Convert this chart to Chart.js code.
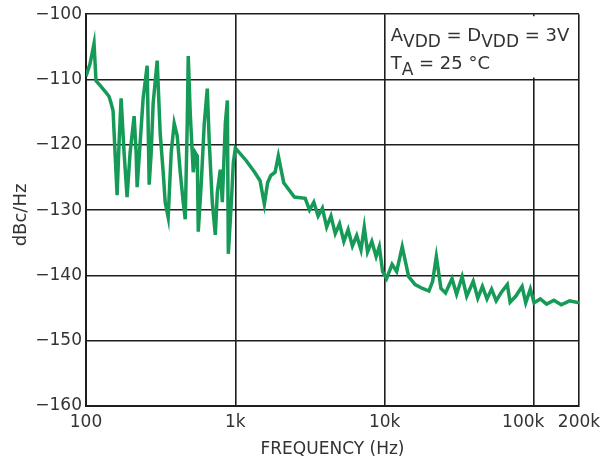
<!DOCTYPE html>
<html>
<head>
<meta charset="utf-8">
<script src="https://cdn.jsdelivr.net/npm/chart.js@4/dist/chart.umd.min.js"></script>
<style>
  html, body { margin: 0; padding: 0; background: #fff; }
  #wrap { width: 614px; height: 464px; }
</style>
</head>
<body>
<div id="wrap"><canvas id="noiseChart" width="614" height="464"></canvas></div>
<script>
// Phase noise vs frequency
const freqHz = [
  100, 106.4, 113.2, 116.7, 124.2, 134.1, 142.7, 147.1, 151.8, 156.5,
  161.5, 166.5, 171.8, 179.9, 188.4, 197.4, 210.0, 216.6, 220.0, 230.4,
  241.3, 256.7, 264.8, 273.2, 281.7, 299.6, 313.8, 328.7, 339.0, 355.0,
  371.9, 389.6, 408.0, 427.5, 447.7, 461.8, 476.3, 483.7, 498.9, 522.6,
  539.0, 555.9, 564.6, 591.4, 619.4, 648.8, 669.1, 700.9, 734.2, 757.2,
  793.1, 818.1, 856.9, 884.0, 897.4, 940.1, 969.6, 1000,
  1180, 1347, 1464, 1564, 1644, 1727, 1845, 1940, 2108, 2486,
  2937, 3138, 3353, 3582, 3827, 4088, 4368, 4666, 4985, 5326,
  5690, 6079, 6494, 6938, 7298, 7677, 8201, 8762, 9204, 9684,
  10288, 11206, 12030, 13100, 14470, 15990, 17910, 19780, 20940, 22170, 23810,
  25550, 28240, 30290, 33010, 35420, 39150, 42000, 45110, 48420, 51970, 55790,
  59970, 66220, 69150, 75330, 83180, 87970, 94460, 100000, 110150, 121340,
  135840, 152070, 172980, 200000
];
const noiseDbc = [
  -109.5, -107.6, -104.5, -110.2, -110.9, -111.8, -112.6, -113.6, -114.8, -121.2,
  -127.7, -119.7, -112.9, -121.2, -128.0, -121.2, -115.6, -121.2, -126.5, -119.7,
  -112.9, -107.9, -126.1, -121.2, -113.6, -107.1, -118.2, -124.2, -128.8, -131.1,
  -121.2, -116.7, -118.6, -124.2, -128.8, -131.4, -116.7, -106.4, -115.2, -124.2,
  -121.2, -121.7, -133.3, -125.8, -116.7, -111.4, -119.7, -128.8, -133.8, -127.3,
  -123.8, -128.8, -116.7, -113.2, -136.7, -128.8, -122.7, -120.5,
  -122.4, -124.2, -125.5, -129.1, -125.8, -124.7, -124.2, -121.7, -125.8, -128.0,
  -128.2, -130.0, -128.8, -130.9, -129.7, -132.6, -130.9, -133.6, -132.1, -134.8,
  -133.0, -135.5, -133.9, -136.1, -132.6, -136.4, -134.8, -137.1, -135.6, -139.4,
  -140.5, -138.3, -139.4, -135.6, -140.2, -141.4, -142.0, -142.4, -140.9, -137.1,
  -142.0, -142.7, -140.5, -142.9, -140.2, -143.2, -140.9, -143.5, -141.7, -143.6,
  -142.1, -143.9, -142.7, -141.4, -144.1, -143.2, -141.7, -144.2, -142.1, -144.2,
  -143.6, -144.4, -143.8, -144.5, -143.9, -144.2
];
const xTickValues = [100, 1000, 10000, 100000, 200000];
const xTickLabels = ["100", "1k", "10k", "100k    ", "200k"];
const yTickValues = [-160, -150, -140, -130, -120, -110, -100];

const FONT = "'DejaVu Sans', sans-serif";
const TEXT_COLOR = "#333";
const GRID_COLOR = "#1e1e1e";

const points = freqHz.map((f, i) => ({ x: f, y: noiseDbc[i] }));

// conditions box in the top-right corner (covers the 100k grid line) + y title
const extras = {
  id: "extras",
  beforeDatasetsDraw(chart) {
    const { ctx, chartArea, scales } = chart;
    const left = scales.x.getPixelForValue(10000) + 2;
    const right = chartArea.right - 2;
    const top = chartArea.top + 2;
    const bottom = scales.y.getPixelForValue(-110) - 2;
    ctx.save();
    ctx.fillStyle = "#fff";
    ctx.fillRect(left, top, right - left, bottom - top);

    ctx.fillStyle = TEXT_COLOR;
    ctx.textBaseline = "alphabetic";
    const drawRuns = (runs, x, y) => {
      runs.forEach((r) => {
        ctx.font = (r.sub ? "17px " : "18px ") + FONT;
        ctx.fillText(r.t, x, r.sub ? y + 6 : y);
        x += ctx.measureText(r.t).width;
      });
    };
    const x0 = left + 4;
    drawRuns([
      { t: "A" }, { t: "VDD", sub: true }, { t: " = D" },
      { t: "VDD", sub: true }, { t: " = 3V" }
    ], x0, chartArea.top + 27);
    drawRuns([
      { t: "T" }, { t: "A", sub: true }, { t: " = 25 °C" }
    ], x0, chartArea.top + 55);
    ctx.restore();
  },
  afterDraw(chart) {
    const { ctx } = chart;
    ctx.save();
    ctx.translate(21, 215);
    ctx.rotate(-Math.PI / 2);
    ctx.fillStyle = TEXT_COLOR;
    ctx.font = "18px " + FONT;
    ctx.textAlign = "center";
    ctx.textBaseline = "middle";
    ctx.fillText("dBc/Hz", 0, 0);
    ctx.restore();
  }
};

const ctx = document.getElementById("noiseChart").getContext("2d");
const chart = new Chart(ctx, {
  type: "line",
  data: {
    datasets: [
      {
        data: points,
        borderColor: "#169a57",
        borderWidth: 3.5,
        pointRadius: 0,
        tension: 0,
        fill: false,
      },
    ],
  },
  options: {
    responsive: false,
    animation: false,
    devicePixelRatio: 1,
    layout: { padding: { top: 10, right: 35, left: 0, bottom: 0 } },
    plugins: {
      legend: { display: false },
      tooltip: { enabled: false },
    },
    scales: {
      x: {
        type: "logarithmic",
        min: 100,
        max: 200000,
        afterBuildTicks: (scale) => {
          scale.ticks = xTickValues.map((v) => ({ value: v }));
        },
        afterFit: (scale) => {
          scale.height = 58;
        },
        ticks: {
          autoSkip: false,
          maxRotation: 0,
          padding: 6,
          color: TEXT_COLOR,
          font: { family: FONT, size: 17 },
          callback: (value) => {
            const i = xTickValues.indexOf(value);
            return i >= 0 ? xTickLabels[i] : "";
          },
        },
        grid: { color: GRID_COLOR, lineWidth: 1.6, drawTicks: false },
        border: { color: GRID_COLOR, width: 2 },
        title: {
          display: true,
          text: "FREQUENCY (Hz)",
          color: TEXT_COLOR,
          font: { family: FONT, size: 17 },
          padding: { top: 0, bottom: 4 },
        },
      },
      y: {
        min: -160,
        max: -100,
        afterBuildTicks: (scale) => {
          scale.ticks = yTickValues.map((v) => ({ value: v }));
        },
        afterFit: (scale) => {
          scale.width = 86;
        },
        ticks: {
          padding: 4,
          color: TEXT_COLOR,
          font: { family: FONT, size: 17 },
          callback: (value) => String(value).replace("-", "\u2212"),
        },
        grid: { color: GRID_COLOR, lineWidth: 1.6, drawTicks: false },
        border: { color: GRID_COLOR, width: 2 },
      },
    },
  },
  plugins: [extras],
});
</script>
</body>
</html>
